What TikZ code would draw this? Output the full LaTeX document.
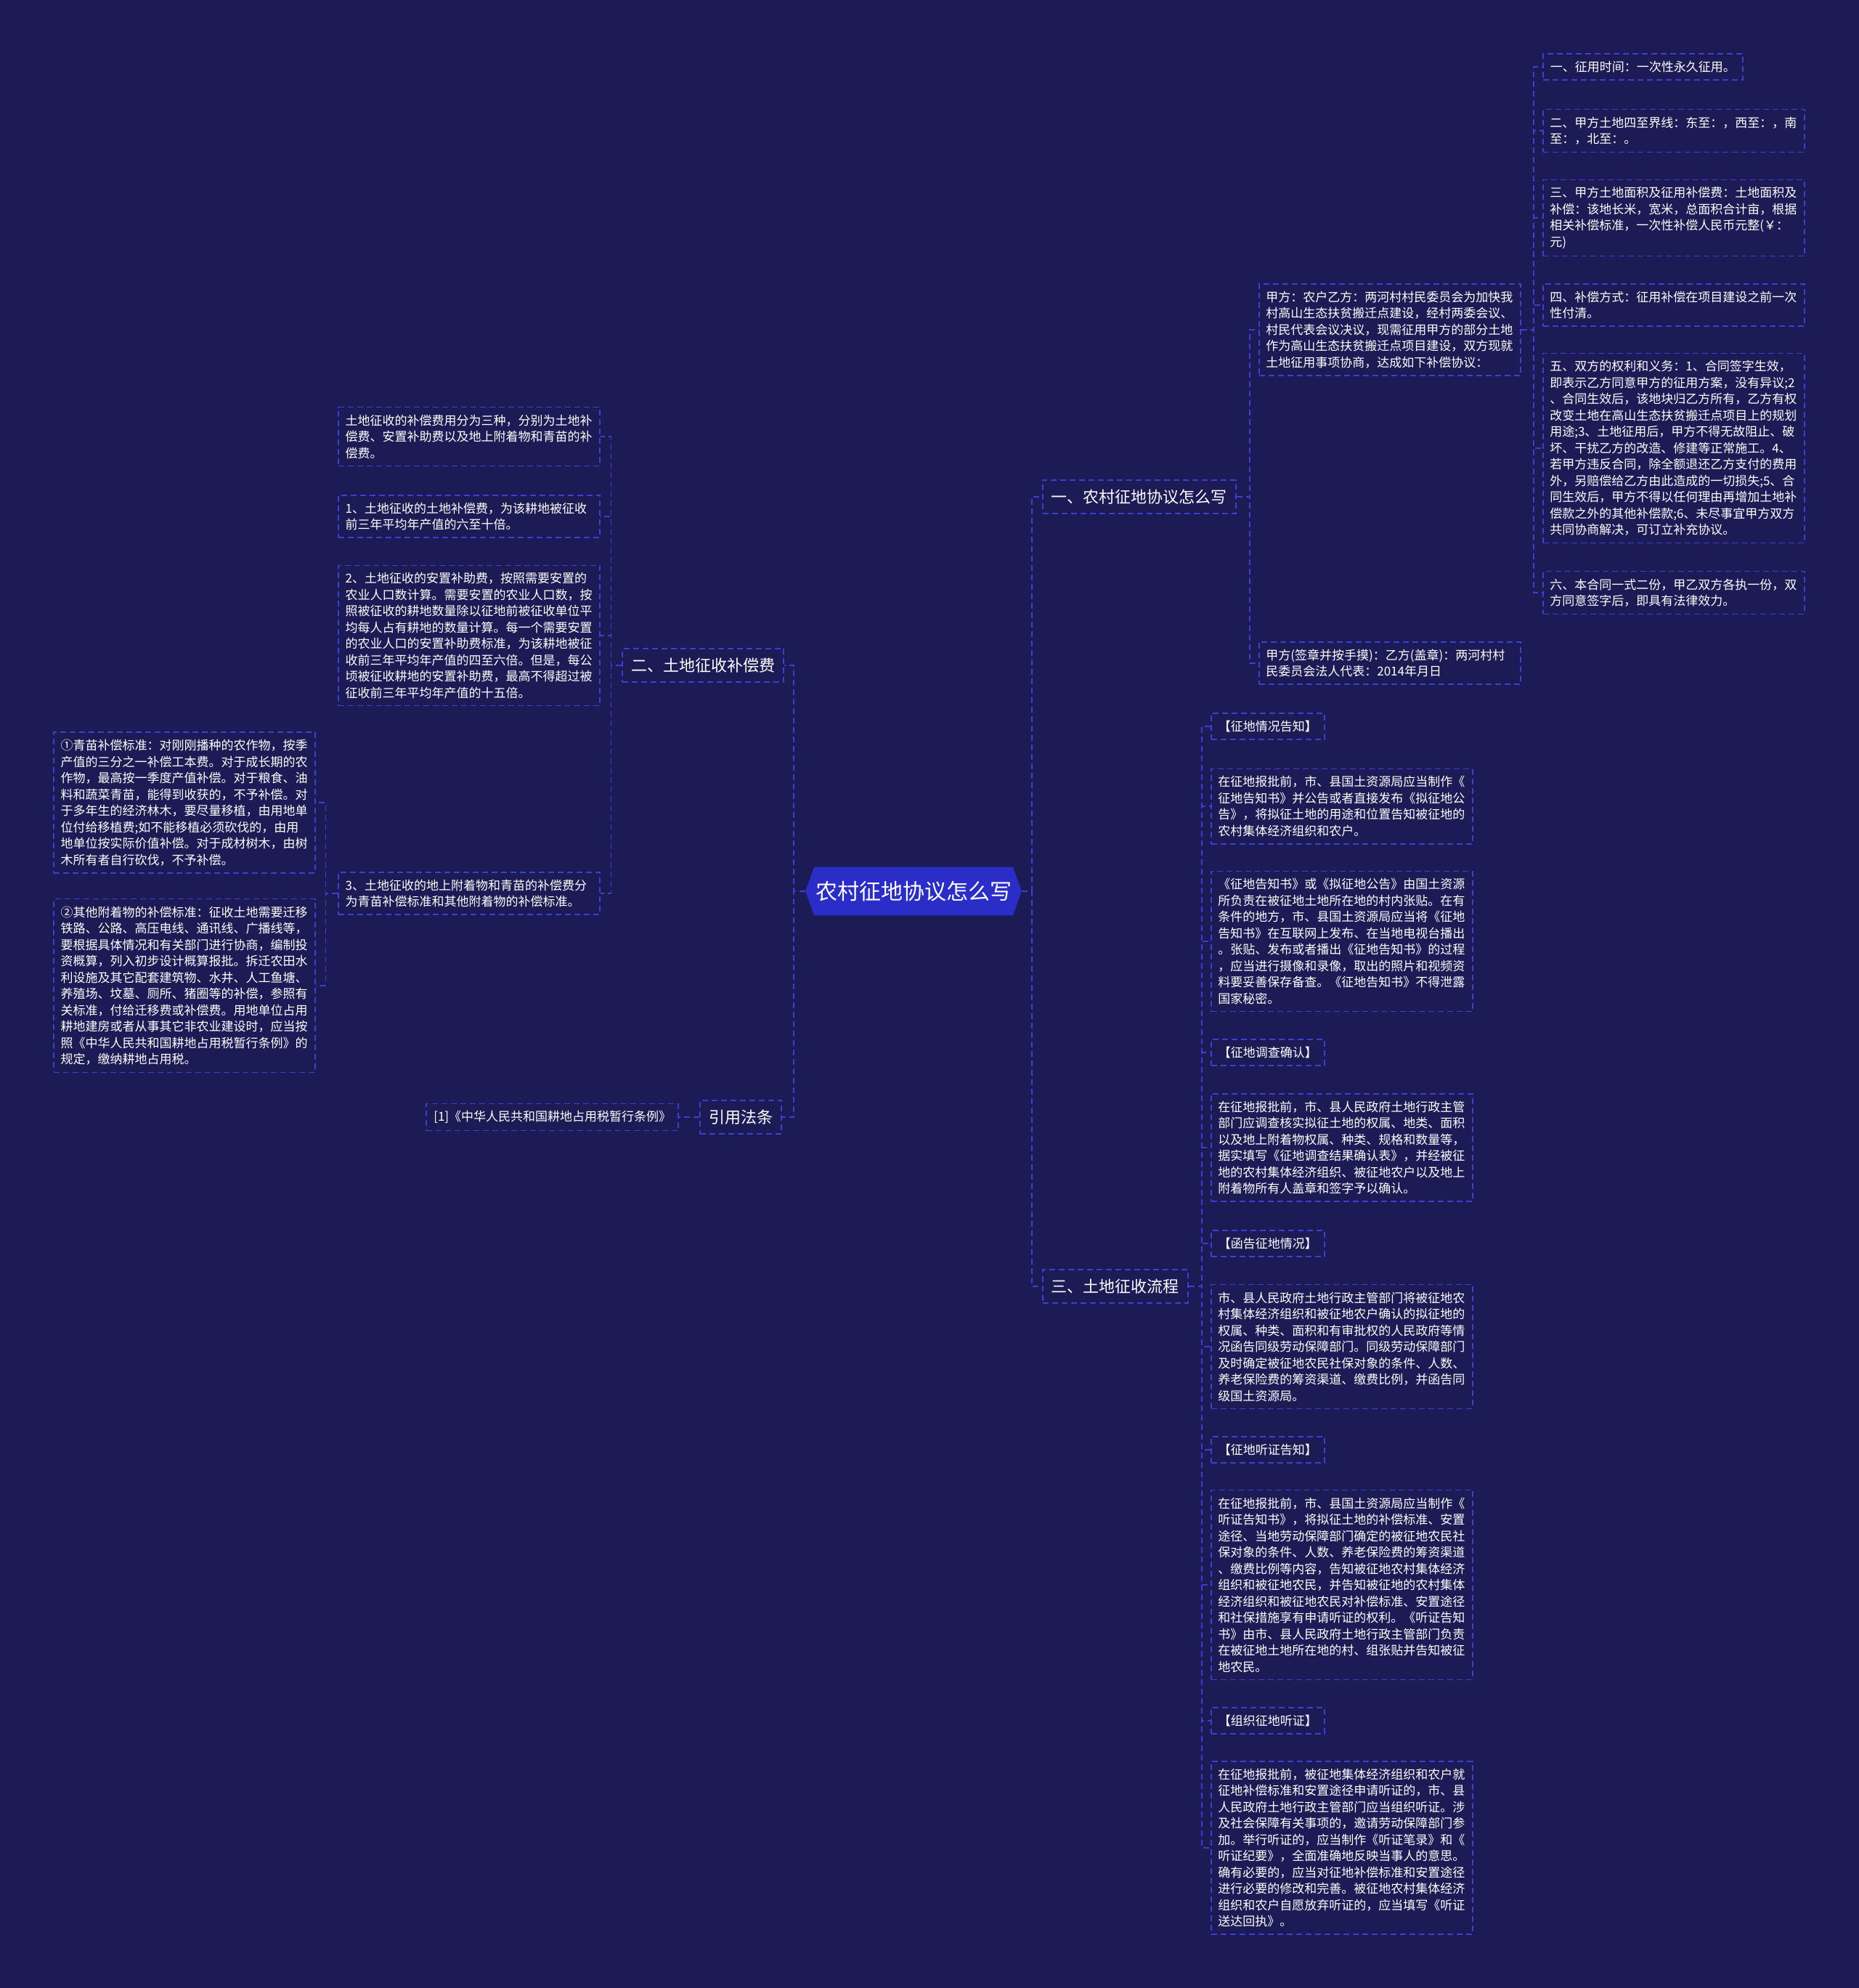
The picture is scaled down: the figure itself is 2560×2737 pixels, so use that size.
\documentclass[tikz,border=0pt]{standalone}
\usepackage{fontspec}
\setmainfont{Noto Sans CJK SC}
\usetikzlibrary{backgrounds}
\definecolor{bgc}{HTML}{1C1B55}
\definecolor{rootc}{HTML}{2A2DC8}
\definecolor{linec}{HTML}{3C3FD0}
\tikzset{
  conn/.style={draw=linec, line width=0.9pt, dash pattern=on 4pt off 2.5pt},
  leaf/.style={draw=linec, line width=0.8pt, dash pattern=on 4pt off 2.5pt, text=white,
    font=\fontsize{8.5pt}{11.25pt}\selectfont, align=left, inner xsep=5pt, inner ysep=5pt},
  wide/.style={leaf, text width=170.5pt, inner xsep=4.75pt},
  branch/.style={draw=linec, line width=0.8pt, dash pattern=on 4pt off 2.5pt, text=white,
    font=\fontsize{11pt}{13pt}\selectfont, inner xsep=6pt, inner ysep=6.5pt},
  rootnode/.style={text=white, font=\fontsize{15pt}{18pt}\selectfont,
    minimum width=148.5pt, minimum height=33pt, inner sep=0pt}
}
\begin{document}
\begin{tikzpicture}[x=0.5pt,y=-0.5pt]
\useasboundingbox (0,0) rectangle (2560,2737);

% root
\node[rootnode] (root) at (1258,1227) {农村征地协议怎么写};

% level 1
\node[branch, anchor=west] (b1) at (1435,684) {一、农村征地协议怎么写};
\node[branch, anchor=east] (b2) at (1080,916) {二、土地征收补偿费};
\node[branch, anchor=east] (b3) at (1077,1538) {引用法条};
\node[branch, anchor=west] (b4) at (1435,1771) {三、土地征收流程};

% branch 1
\node[wide, anchor=west] (j1) at (1733,454) {甲方：农户乙方：两河村村民委员会为加快我\\村高山生态扶贫搬迁点建设，经村两委会议、\\村民代表会议决议，现需征用甲方的部分土地\\作为高山生态扶贫搬迁点项目建设，双方现就\\土地征用事项协商，达成如下补偿协议：};
\node[wide, anchor=west] (j2) at (1733,913) {甲方(签章并按手摸)：乙方(盖章)：两河村村\\民委员会法人代表：2014年月日};

\node[leaf, anchor=west] (r1) at (2124,92) {一、征用时间：一次性永久征用。};
\node[wide, anchor=west] (r2) at (2124,180) {二、甲方土地四至界线：东至：，西至：，南\\至：，北至：。};
\node[wide, anchor=west] (r3) at (2124,300) {三、甲方土地面积及征用补偿费：土地面积及\\补偿：该地长米，宽米，总面积合计亩，根据\\相关补偿标准，一次性补偿人民币元整(￥：\\元)};
\node[wide, anchor=west] (r4) at (2124,420) {四、补偿方式：征用补偿在项目建设之前一次\\性付清。};
\node[wide, anchor=west] (r5) at (2124,617) {五、双方的权利和义务：1、合同签字生效，\\即表示乙方同意甲方的征用方案，没有异议;2\\、合同生效后，该地块归乙方所有，乙方有权\\改变土地在高山生态扶贫搬迁点项目上的规划\\用途;3、土地征用后，甲方不得无故阻止、破\\坏、干扰乙方的改造、修建等正常施工。4、\\若甲方违反合同，除全额退还乙方支付的费用\\外，另赔偿给乙方由此造成的一切损失;5、合\\同生效后，甲方不得以任何理由再增加土地补\\偿款之外的其他补偿款;6、未尽事宜甲方双方\\共同协商解决，可订立补充协议。};
\node[wide, anchor=west] (r6) at (2124,816) {六、本合同一式二份，甲乙双方各执一份，双\\方同意签字后，即具有法律效力。};

% branch 2
\node[wide, anchor=east] (l1) at (827,601) {土地征收的补偿费用分为三种，分别为土地补\\偿费、安置补助费以及地上附着物和青苗的补\\偿费。};
\node[wide, anchor=east] (l2) at (827,711) {1、土地征收的土地补偿费，为该耕地被征收\\前三年平均年产值的六至十倍。};
\node[wide, anchor=east] (l3) at (827,875) {2、土地征收的安置补助费，按照需要安置的\\农业人口数计算。需要安置的农业人口数，按\\照被征收的耕地数量除以征地前被征收单位平\\均每人占有耕地的数量计算。每一个需要安置\\的农业人口的安置补助费标准，为该耕地被征\\收前三年平均年产值的四至六倍。但是，每公\\顷被征收耕地的安置补助费，最高不得超过被\\征收前三年平均年产值的十五倍。};
\node[wide, anchor=east] (l4) at (827,1230) {3、土地征收的地上附着物和青苗的补偿费分\\为青苗补偿标准和其他附着物的补偿标准。};

\node[wide, anchor=east] (m1) at (435,1105) {①青苗补偿标准：对刚刚播种的农作物，按季\\产值的三分之一补偿工本费。对于成长期的农\\作物，最高按一季度产值补偿。对于粮食、油\\料和蔬菜青苗，能得到收获的，不予补偿。对\\于多年生的经济林木，要尽量移植，由用地单\\位付给移植费;如不能移植必须砍伐的，由用\\地单位按实际价值补偿。对于成材树木，由树\\木所有者自行砍伐，不予补偿。};
\node[wide, anchor=east] (m2) at (435,1357) {②其他附着物的补偿标准：征收土地需要迁移\\铁路、公路、高压电线、通讯线、广播线等，\\要根据具体情况和有关部门进行协商，编制投\\资概算，列入初步设计概算报批。拆迁农田水\\利设施及其它配套建筑物、水井、人工鱼塘、\\养殖场、坟墓、厕所、猪圈等的补偿，参照有\\关标准，付给迁移费或补偿费。用地单位占用\\耕地建房或者从事其它非农业建设时，应当按\\照《中华人民共和国耕地占用税暂行条例》的\\规定，缴纳耕地占用税。};

% reference
\node[leaf, anchor=east] (ref) at (935,1538) {[1]《中华人民共和国耕地占用税暂行条例》};

% branch 3
\node[leaf, anchor=west] (t1) at (1667,1000) {【征地情况告知】};
\node[wide, anchor=west] (t2) at (1667,1110) {在征地报批前，市、县国土资源局应当制作《\\征地告知书》并公告或者直接发布《拟征地公\\告》，将拟征土地的用途和位置告知被征地的\\农村集体经济组织和农户。};
\node[wide, anchor=west] (t3) at (1667,1296) {《征地告知书》或《拟征地公告》由国土资源\\所负责在被征地土地所在地的村内张贴。在有\\条件的地方，市、县国土资源局应当将《征地\\告知书》在互联网上发布、在当地电视台播出\\。张贴、发布或者播出《征地告知书》的过程\\，应当进行摄像和录像，取出的照片和视频资\\料要妥善保存备查。《征地告知书》不得泄露\\国家秘密。};
\node[leaf, anchor=west] (t4) at (1667,1449) {【征地调查确认】};
\node[wide, anchor=west] (t5) at (1667,1580) {在征地报批前，市、县人民政府土地行政主管\\部门应调查核实拟征土地的权属、地类、面积\\以及地上附着物权属、种类、规格和数量等，\\据实填写《征地调查结果确认表》，并经被征\\地的农村集体经济组织、被征地农户以及地上\\附着物所有人盖章和签字予以确认。};
\node[leaf, anchor=west] (t6) at (1667,1712) {【函告征地情况】};
\node[wide, anchor=west] (t7) at (1667,1854) {市、县人民政府土地行政主管部门将被征地农\\村集体经济组织和被征地农户确认的拟征地的\\权属、种类、面积和有审批权的人民政府等情\\况函告同级劳动保障部门。同级劳动保障部门\\及时确定被征地农民社保对象的条件、人数、\\养老保险费的筹资渠道、缴费比例，并函告同\\级国土资源局。};
\node[leaf, anchor=west] (t8) at (1667,1996) {【征地听证告知】};
\node[wide, anchor=west] (t9) at (1667,2182) {在征地报批前，市、县国土资源局应当制作《\\听证告知书》，将拟征土地的补偿标准、安置\\途径、当地劳动保障部门确定的被征地农民社\\保对象的条件、人数、养老保险费的筹资渠道\\、缴费比例等内容，告知被征地农村集体经济\\组织和被征地农民，并告知被征地的农村集体\\经济组织和被征地农民对补偿标准、安置途径\\和社保措施享有申请听证的权利。《听证告知\\书》由市、县人民政府土地行政主管部门负责\\在被征地土地所在地的村、组张贴并告知被征\\地农民。};
\node[leaf, anchor=west] (t10) at (1667,2369) {【组织征地听证】};
\node[wide, anchor=west] (t11) at (1667,2544) {在征地报批前，被征地集体经济组织和农户就\\征地补偿标准和安置途径申请听证的，市、县\\人民政府土地行政主管部门应当组织听证。涉\\及社会保障有关事项的，邀请劳动保障部门参\\加。举行听证的，应当制作《听证笔录》和《\\听证纪要》，全面准确地反映当事人的意思。\\确有必要的，应当对征地补偿标准和安置途径\\进行必要的修改和完善。被征地农村集体经济\\组织和农户自愿放弃听证的，应当填写《听证\\送达回执》。};

% connectors
\foreach \c in {b2,b3} \draw[conn] (root.west) -- ++(-16,0) |- (\c.east);
\foreach \c in {b1,b4} \draw[conn] (root.east) -- ++(14,0) |- (\c.west);
\foreach \c in {j1,j2} \draw[conn] (b1.east) -- ++(18,0) |- (\c.west);
\foreach \c in {r1,r2,r3,r4,r5,r6} \draw[conn] (j1.east) -- ++(17,0) |- (\c.west);
\foreach \c in {l1,l2,l3,l4} \draw[conn] (b2.west) -- ++(-15,0) |- (\c.east);
\foreach \c in {m1,m2} \draw[conn] (l4.west) -- ++(-17,0) |- (\c.east);
\draw[conn] (b3.west) -- (ref.east);
\foreach \c in {t1,t2,t3,t4,t5,t6,t7,t8,t9,t10,t11} \draw[conn] (b4.east) -- ++(18,0) |- (\c.west);

\begin{scope}[on background layer]
\fill[bgc] (0,0) rectangle (2560,2737);
\fill[rootc] ([xshift=6pt]root.north west) -- (root.west) -- ([xshift=6pt]root.south west)
  -- ([xshift=-6pt]root.south east) -- (root.east) -- ([xshift=-6pt]root.north east) -- cycle;
\end{scope}
\end{tikzpicture}
\end{document}
